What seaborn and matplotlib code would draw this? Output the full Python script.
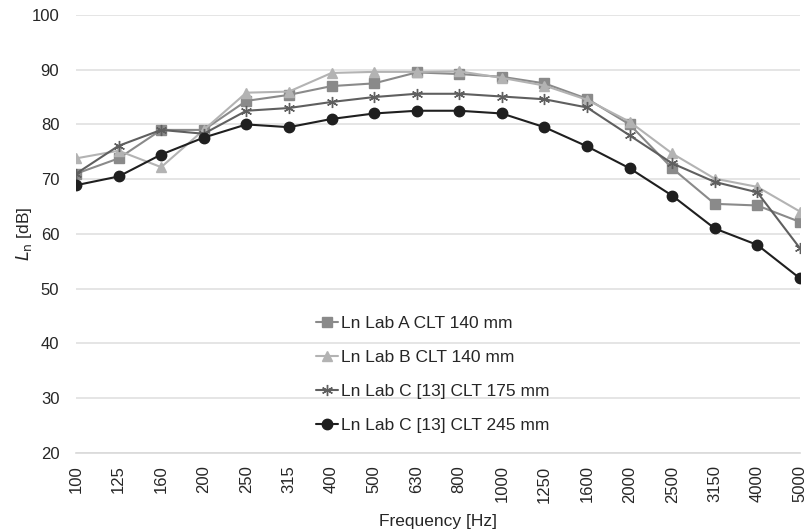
import numpy as np
import pandas as pd
import matplotlib
matplotlib.use("Agg")
import matplotlib.pyplot as plt
import seaborn as sns

sns.set_style("white")
plt.rcParams['font.family'] = ['Liberation Sans', 'DejaVu Sans']

# one-third octave bands
freqs = ["100", "125", "160", "200", "250", "315", "400", "500", "630", "800",
         "1000", "1250", "1600", "2000", "2500", "3150", "4000", "5000"]

lab_a_140 = [71.0, 73.8, 79.0, 79.0, 84.3, 85.4, 87.0, 87.5, 89.5, 89.2,
             88.7, 87.5, 84.7, 80.0, 72.0, 65.5, 65.2, 62.2]
lab_b_140 = [73.8, 75.2, 72.2, 79.0, 85.8, 86.0, 89.4, 89.6, 89.6, 89.7,
             88.5, 87.1, 84.5, 80.5, 74.7, 70.1, 68.6, 64.1]
lab_c_175 = [71.0, 76.1, 79.0, 78.3, 82.5, 83.0, 84.1, 85.0, 85.6, 85.6,
             85.1, 84.6, 83.1, 78.0, 72.9, 69.5, 67.6, 57.4]
lab_c_245 = [68.9, 70.5, 74.5, 77.6, 80.0, 79.5, 81.0, 82.0, 82.5, 82.5,
             82.0, 79.5, 76.0, 72.0, 67.0, 61.0, 58.0, 51.9]

series_names = ["Ln Lab A CLT 140 mm", "Ln Lab B CLT 140 mm",
                "Ln Lab C [13] CLT 175 mm", "Ln Lab C [13] CLT 245 mm"]
series_vals = [lab_a_140, lab_b_140, lab_c_175, lab_c_245]

rows = []
for name, vals in zip(series_names, series_vals):
    for i, v in enumerate(vals):
        rows.append({"idx": i, "Ln": v, "Series": name})
df = pd.DataFrame(rows)

colors = {series_names[0]: "#8a8a8a", series_names[1]: "#b3b3b3",
          series_names[2]: "#5f5f5f", series_names[3]: "#1f1f1f"}
marks = {series_names[0]: "s", series_names[1]: "^",
         series_names[2]: (6, 2, 0), series_names[3]: "o"}

fig = plt.figure(figsize=(8.07, 5.31), dpi=100)
ax = fig.add_axes([0.0942, 0.1469, 0.897, 0.825])

for name in series_names:
    sub = df[df["Series"] == name]
    ms = 7.5 if name == series_names[3] else (8 if name == series_names[2] else 6.5)
    sns.lineplot(data=sub, x="idx", y="Ln", ax=ax, color=colors[name],
                 marker=marks[name], markersize=ms, linewidth=1.5,
                 markeredgecolor=colors[name], markeredgewidth=1.0,
                 label=name, zorder=3)

ax.set_xlim(0, len(freqs) - 1)
ax.set_ylim(20, 100)
ax.set_yticks(np.arange(20, 101, 10))
ax.set_xticks(range(len(freqs)))
ax.set_xticklabels(freqs, rotation=90)
ax.tick_params(axis="both", labelsize=12, colors="#262626", length=0)
ax.tick_params(axis="x", pad=9)
ax.tick_params(axis="y", pad=12)
ax.grid(axis="y", color="#e0e0e0", linewidth=1.2)
ax.grid(axis="x", visible=False)
for s in ["top", "right", "left"]:
    ax.spines[s].set_visible(False)
ax.spines["bottom"].set_color("#d9d9d9")
ax.spines["bottom"].set_linewidth(1.2)

ax.set_xlabel("Frequency [Hz]", fontsize=12.5, color="#262626", labelpad=8)
ax.set_ylabel(r"$\mathit{L}_\mathrm{n}$ [dB]", fontsize=12.5, color="#262626", labelpad=-2)

leg = ax.legend(loc="upper left", bbox_to_anchor=(0.322, 0.328), frameon=False,
                fontsize=12.5, handlelength=1.26, handletextpad=0.15,
                labelspacing=1.07, borderaxespad=0)
for t in leg.get_texts():
    t.set_color("#262626")

fig.savefig("out.png", dpi=100)
